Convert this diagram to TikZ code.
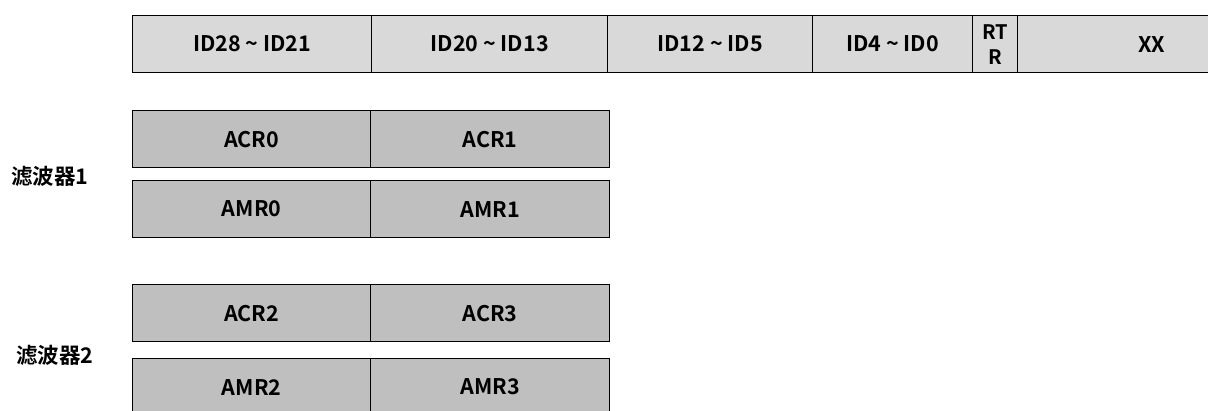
\documentclass[tikz,border=0pt]{standalone}
\usepackage{fontspec}
\setmainfont{Noto Sans CJK SC}[BoldFont={Noto Sans CJK SC Bold}]
\begin{document}
\begin{tikzpicture}[x=1pt,y=-1pt,
  cell/.style={draw=black, line width=1.3pt, anchor=north west, inner sep=0pt,
    minimum height=57pt, font=\fontsize{21.5}{23}\selectfont\bfseries, align=center},
  topcell/.style={cell, fill=topgray},
  filtcell/.style={cell, fill=filtgray},
  flabel/.style={font=\fontsize{21.5}{23}\selectfont\bfseries, inner sep=0pt}]
\definecolor{topgray}{HTML}{D9D9D9}
\definecolor{filtgray}{HTML}{BFBFBF}
\useasboundingbox (0,0) rectangle (1208,410);
% top row
\node[topcell, minimum width=239pt] (id28) at (132,15) {ID28 \textasciitilde{} ID21};
\node[topcell, minimum width=236pt] (id20) at (371,15) {ID20 \textasciitilde{} ID13};
\node[topcell, minimum width=205pt] (id12) at (607,15) {ID12 \textasciitilde{} ID5};
\node[topcell, minimum width=160pt] (id4) at (812,15) {ID4 \textasciitilde{} ID0};
\node[topcell, minimum width=45pt, font=\fontsize{20}{25}\selectfont\bfseries] (rtr) at (972,15) {RT\\R};
\node[topcell, minimum width=268pt] (xx) at (1017,15) {XX};
% filter 1
\node[filtcell, minimum width=238pt] (acr0) at (132,110) {ACR0};
\node[filtcell, minimum width=239pt] (acr1) at (370,110) {ACR1};
\node[filtcell, minimum width=238pt] (amr0) at (132,180) {AMR0};
\node[filtcell, minimum width=239pt] (amr1) at (370,180) {AMR1};
\node[flabel] (f1) at (50,176) {滤波器1};
% filter 2
\node[filtcell, minimum width=238pt] (acr2) at (132,284) {ACR2};
\node[filtcell, minimum width=239pt] (acr3) at (370,284) {ACR3};
\node[filtcell, minimum width=238pt] (amr2) at (132,358) {AMR2};
\node[filtcell, minimum width=239pt] (amr3) at (370,358) {AMR3};
\node[flabel] (f2) at (55,355) {滤波器2};
\end{tikzpicture}
\end{document}
